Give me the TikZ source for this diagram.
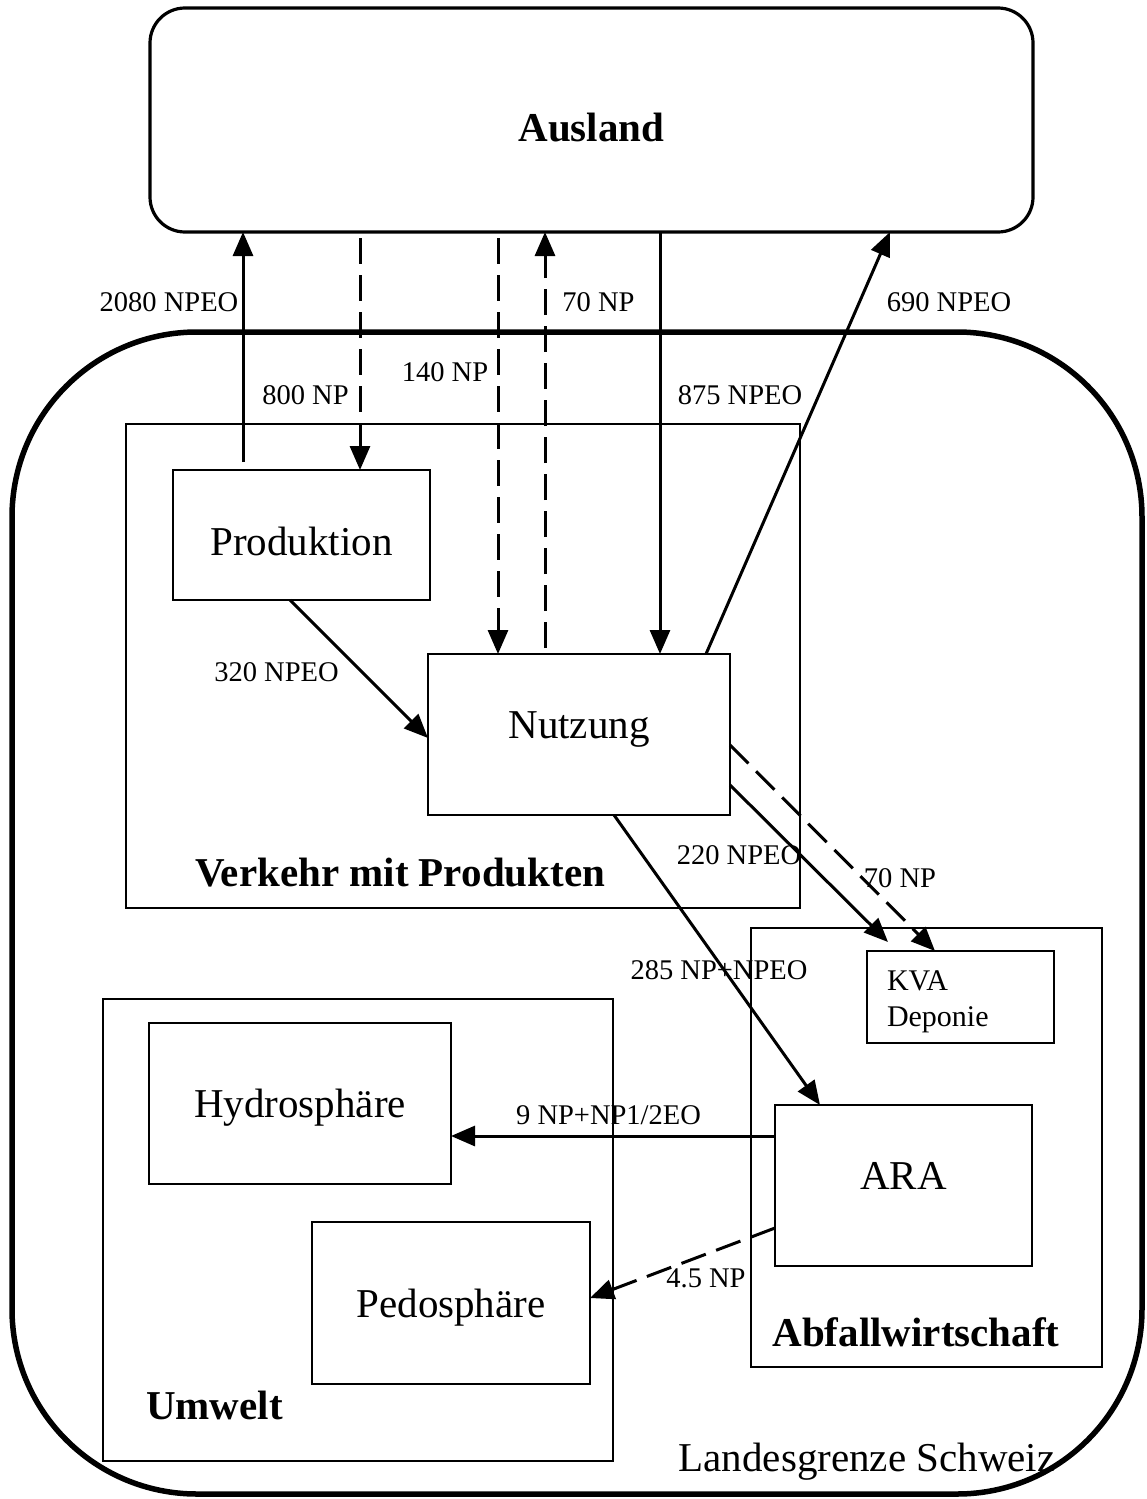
\documentclass[tikz,border=0pt]{standalone}
\usepackage{fontspec}
\setmainfont{Liberation Serif}
\usetikzlibrary{arrows.meta}

\tikzset{every picture/.style={line width=2.5pt}}
\tikzset{
  box/.style={draw, line width=2.7pt, outer sep=0pt, inner sep=0pt, font=\fontsize{41}{48}\selectfont},
  group/.style={draw, line width=2.9pt, outer sep=0pt, inner sep=0pt},
  grouptext/.style={inner sep=0pt, font=\fontsize{41}{48}\selectfont\bfseries},
  flowtext/.style={inner sep=0pt, font=\fontsize{28.5}{34}\selectfont},
  flow/.style={line width=3pt, -{Triangle[length=24pt,width=20pt]}},
  flowdash/.style={flow, dash pattern=on 26pt off 11pt}
}

\begin{document}
\begin{tikzpicture}[x=1pt,y=1pt,yscale=-1,xscale=1]
\useasboundingbox (0,0) rectangle (1146,1499);

%Shape: Landesgrenze
\draw [line width=5.5pt, rounded corners=185] (12,332) rectangle (1142,1494);

%Shape: Ausland
\node [box, rounded corners=35, line width=3.2pt, minimum width=883, minimum height=224, text height=42pt, text depth=0pt, font=\fontsize{41}{48}\selectfont\bfseries] (ausland) at (591.5,120) {Ausland};

%Shape: groups
\node [group, minimum width=674, minimum height=484] (verkehr) at (463,666) {};
\node [group, minimum width=351, minimum height=439] (abfall) at (926.5,1147.5) {};
\node [group, minimum width=510, minimum height=462] (umwelt) at (358,1230) {};

%Shape: processes
\node [box, minimum width=257, minimum height=130, text height=40pt, text depth=0pt] (prod) at (301.5,535) {Produktion};
\node [box, minimum width=302, minimum height=161, text height=27pt, text depth=19pt] (nutz) at (579,734.5) {Nutzung};
\node [box, minimum width=187, minimum height=92, text width=147, align=left, text height=30pt, font=\fontsize{30}{36}\selectfont] (kva) at (960.5,997) {KVA\\Deponie};
\node [box, minimum width=257, minimum height=161, text height=27pt, text depth=20pt] (ara) at (903.5,1185.5) {ARA};
\node [box, minimum width=302, minimum height=161, text height=36pt, text depth=9pt] (hydro) at (300,1103.5) {Hydrosph\"are};
\node [box, minimum width=278, minimum height=162, text height=38pt, text depth=9pt] (pedo) at (451,1303) {Pedosph\"are};

% Text Node
\node [grouptext] (verkehr-t) at (400,873) {Verkehr mit Produkten};
\node [grouptext] (abfall-t) at (916,1332) {Abfallwirtschaft};
\node [grouptext] (umwelt-t) at (214.5,1405) {Umwelt};
\node [inner sep=0pt, font=\fontsize{41}{48}\selectfont] (grenze-t) at (867,1462) {Landesgrenze Schweiz};

%Straight Lines
\draw [flow] ([xshift=-58.5,yshift=-8]prod.north) -- ([xshift=-348.5]ausland.south);
\draw [flowdash] ([xshift=-231.5,yshift=6]ausland.south) -- ([xshift=58.5]prod.north);
\draw [flowdash] ([xshift=-93.5,yshift=6]ausland.south) -- ([xshift=-81]nutz.north);
\draw [flowdash] ([xshift=-34,yshift=-6]nutz.north) -- ([xshift=-46.5]ausland.south);
\draw [flow] ([xshift=68.5]ausland.south) -- ([xshift=81]nutz.north);
\draw [flow] ([xshift=127]nutz.north) -- ([xshift=298.5]ausland.south);
\draw [flow] ([xshift=-11.5]prod.south) -- ([yshift=3.5]nutz.west);
\draw [flow] ([yshift=50.5]nutz.east) -- ([xshift=-72.5,yshift=-9]kva.north);
\draw [flowdash] ([yshift=10.5]nutz.east) -- ([xshift=-25.5]kva.north);
\draw [flow] ([xshift=35]nutz.south) -- ([xshift=-83.5]ara.north);
\draw [flow] ([yshift=-49.5]ara.west) -- ([yshift=32.5]hydro.east);
\draw [flowdash] ([yshift=42.5]ara.west) -- ([yshift=-5]pedo.east);

% Text Node
\node [flowtext] (f2080) at (169,302) {2080 NPEO};
\node [flowtext] (f800) at (305.5,395) {800 NP};
\node [flowtext] (f140) at (445,372) {140 NP};
\node [flowtext] (f70a) at (598.5,302) {70 NP};
\node [flowtext] (f875) at (740,395) {875 NPEO};
\node [flowtext] (f690) at (949,302) {690 NPEO};
\node [flowtext] (f320) at (276.5,672) {320 NPEO};
\node [flowtext] (f220) at (739,855) {220 NPEO};
\node [flowtext] (f70b) at (900,878) {70 NP};
\node [flowtext] (f285) at (719,970) {285 NP+NPEO};
\node [flowtext] (f9) at (608.5,1115) {9 NP+NP1/2EO};
\node [flowtext] (f45) at (706,1278) {4.5 NP};

\end{tikzpicture}
\end{document}
